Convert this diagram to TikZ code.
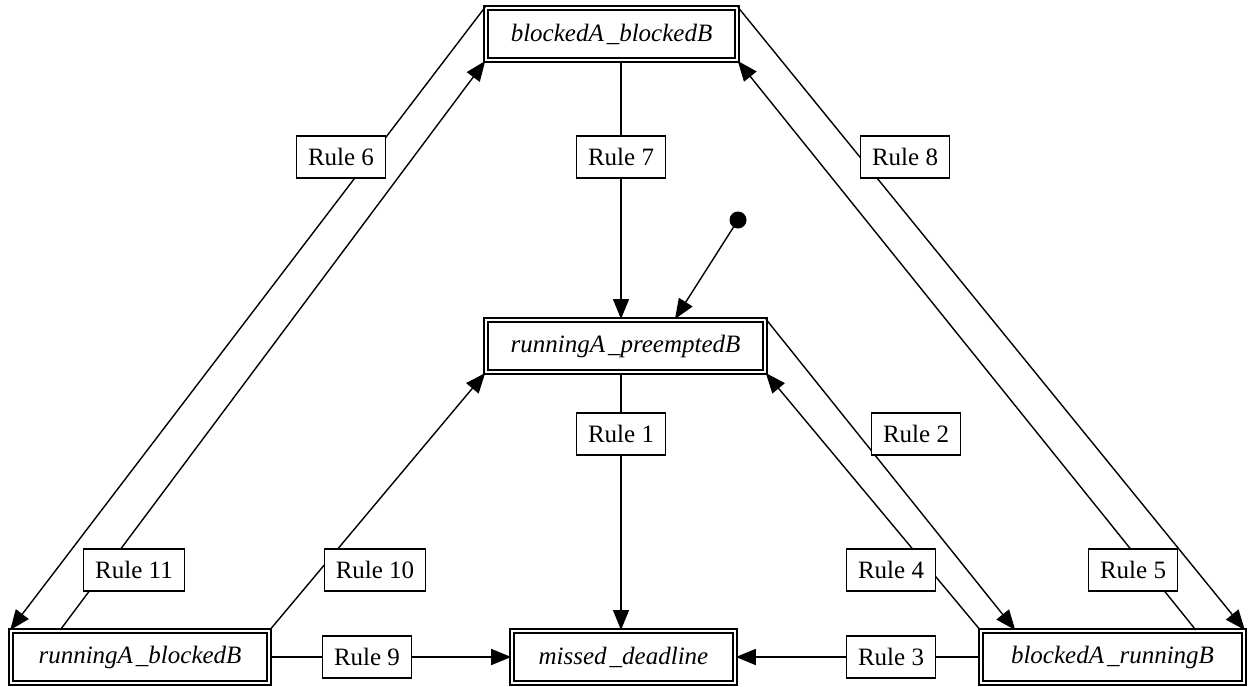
\documentclass[tikz,border=0pt]{standalone}
\usepackage{fontspec}
\setmainfont{Liberation Serif}
\usetikzlibrary{arrows.meta}

\newcommand{\usc}{\kern3pt\_}

\begin{document}
\begin{tikzpicture}[x=1pt,y=-1pt,>={Triangle[length=20pt,width=16pt]},line width=1.4pt,
	state/.style={draw,double,double distance=2.4pt,line width=1.6pt,inner sep=0pt,minimum height=52.4pt,font=\fontsize{25}{30}\selectfont\itshape},
	rule/.style={draw,fill=white,line width=1.2pt,inner xsep=11.5pt,inner ysep=0pt,minimum height=42pt,font=\fontsize{25}{30}\selectfont}]
	\useasboundingbox (0,0) rectangle (1252,686);
	\node [state,minimum width=251pt] (bAbB) at (611.5,34) {blockedA\usc blockedB};
	\node [state,minimum width=279pt] (rApB) at (625.5,346) {runningA\usc preemptedB};
	\node [state,minimum width=223pt] (md) at (623.5,657) {missed\usc deadline};
	\node [state,minimum width=258pt] (rAbB) at (140,657) {runningA\usc blockedB};
	\node [state,minimum width=263pt] (bArB) at (1112.5,657) {blockedA\usc runningB};
	\coordinate (axis) at (621,0);
	\coordinate (init) at (738,220);
	\fill (init) circle (8.5);
	\draw [->] (init) -- ([xshift=49.5pt]rApB.north);
	\draw [->] (bAbB.north west) -- (rAbB.north west);
	\draw [->] (bAbB.south -| axis) -- (rApB.north -| axis);
	\draw [->] (bAbB.north east) -- (bArB.north east);
	\draw [->] (rApB.south -| axis) -- (md.north -| axis);
	\draw [->] (rApB.north east) -- ([xshift=35pt]bArB.north west);
	\draw [->] (bArB.west) -- (md.east);
	\draw [->] (bArB.north west) -- (rApB.south east);
	\draw [->] ([xshift=-49pt]bArB.north east) -- (bAbB.south east);
	\draw [->] (rAbB.east) -- (md.west);
	\draw [->] (rAbB.north east) -- (rApB.south west);
	\draw [->] ([xshift=50pt]rAbB.north west) -- (bAbB.south west);
	\node [rule] (r6) at (341,157) {Rule 6};
	\node [rule] (r7) at (621,157) {Rule 7};
	\node [rule] (r8) at (905,157) {Rule 8};
	\node [rule] (r1) at (621,434) {Rule 1};
	\node [rule] (r2) at (916,434) {Rule 2};
	\node [rule] (r11) at (134,570) {Rule 11};
	\node [rule] (r10) at (375,570) {Rule 10};
	\node [rule] (r4) at (891,570) {Rule 4};
	\node [rule] (r5) at (1133,570) {Rule 5};
	\node [rule] (r9) at (367,657) {Rule 9};
	\node [rule] (r3) at (891,657) {Rule 3};
\end{tikzpicture}
\end{document}
